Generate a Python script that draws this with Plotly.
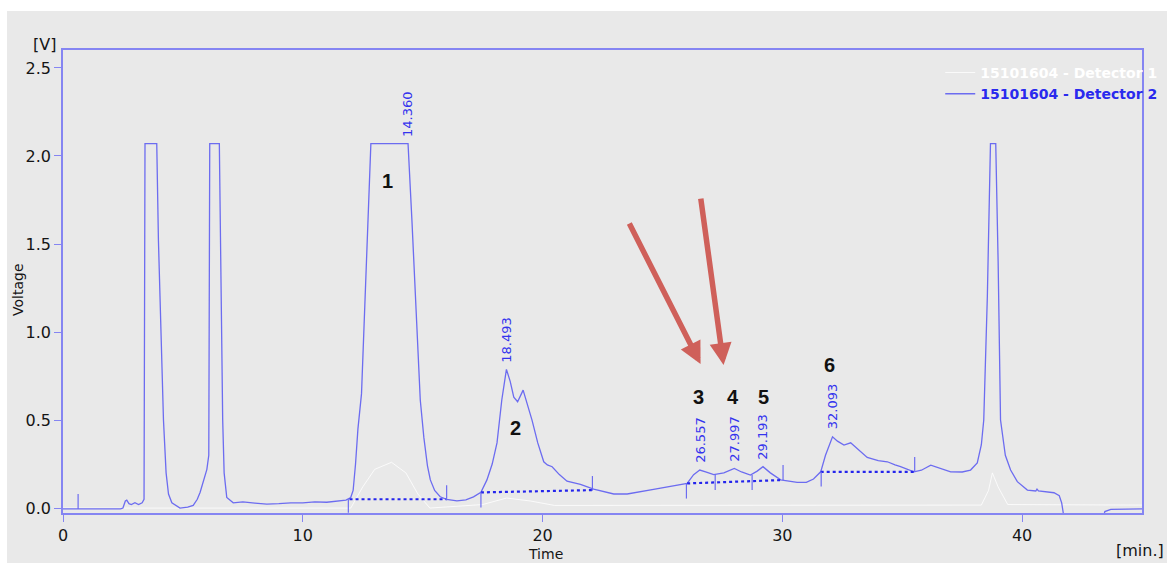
import numpy as np
import plotly.graph_objects as go

# ---- chromatogram, detector 2 (time in min, signal in V) ----
time_d2 = [0.0, 2.4, 2.5, 2.6, 2.66, 2.75, 2.85, 3.0, 3.15, 3.3, 3.38,
           3.42, 3.91, 3.98, 4.19, 4.3, 4.4, 4.54, 4.88, 5.2, 5.43, 5.6, 5.72, 5.9, 6.0, 6.08,
           6.12, 6.52, 6.56, 6.66, 6.72, 6.83, 7.1, 7.5, 8.0, 8.5, 9.0, 9.5, 10.0, 10.5, 11.0,
           11.5, 11.8, 12.0, 12.1, 12.2, 12.3, 12.45, 12.58, 12.7, 12.84,
           14.36, 14.39, 14.55, 14.75, 14.9, 15.05, 15.2, 15.32, 15.5, 15.73, 16.0, 16.43,
           16.8, 17.12, 17.43, 17.68, 17.9, 18.1, 18.3, 18.493, 18.65, 18.8, 18.96, 19.19,
           19.35, 19.56, 19.8, 20.05, 20.2, 20.4, 20.7, 21.02, 21.58, 22.13, 22.97, 23.53,
           24.63, 26.03, 26.3, 26.557, 26.8, 27.14, 27.56, 27.997, 28.3, 28.67, 28.95,
           29.193, 29.5, 29.93, 30.62, 31.0, 31.3, 31.6, 31.8, 32.093, 32.3, 32.57, 32.85,
           33.2, 33.54, 34.0, 34.38, 34.7, 34.93, 35.49, 35.8, 36.19, 36.6, 37.02, 37.5,
           37.85, 38.13, 38.3, 38.4, 38.55, 38.68, 38.9, 39.0, 39.1, 39.3, 39.52, 39.8,
           40.22, 40.57, 40.62, 40.68, 41.33, 41.55, 41.65, 41.8, 43.3, 43.45, 43.7, 45.0]
signal_d2 = [-0.005, -0.005, 0.0, 0.04, 0.045, 0.025, 0.02, 0.03, 0.02, 0.03, 0.05,
             2.07, 2.07, 1.52, 0.5, 0.2, 0.08, 0.03, 0.0, 0.005, 0.015, 0.05, 0.09, 0.17, 0.22, 0.3,
             2.07, 2.07, 1.5, 0.5, 0.2, 0.06, 0.03, 0.035, 0.028, 0.022, 0.025, 0.03, 0.03, 0.035, 0.033,
             0.04, 0.045, 0.06, 0.1, 0.25, 0.45, 0.65, 1.1, 1.6, 2.07,
             2.07, 2.07, 1.64, 1.05, 0.614, 0.4, 0.24, 0.16, 0.1, 0.064, 0.05, 0.041,
             0.047, 0.064, 0.09, 0.16, 0.25, 0.37, 0.614, 0.788, 0.72, 0.63, 0.604, 0.67,
             0.6, 0.5, 0.37, 0.263, 0.245, 0.235, 0.19, 0.153, 0.135, 0.108, 0.08, 0.08,
             0.106, 0.14, 0.19, 0.216, 0.205, 0.19, 0.2, 0.225, 0.205, 0.1875, 0.21,
             0.235, 0.2, 0.16, 0.146, 0.146, 0.165, 0.206, 0.3, 0.405, 0.38, 0.358, 0.371,
             0.33, 0.288, 0.27, 0.263, 0.245, 0.235, 0.206, 0.215, 0.244, 0.225, 0.206, 0.205,
             0.216, 0.256, 0.36, 0.5, 1.2, 2.07, 2.07, 1.4, 0.5, 0.3, 0.216, 0.15,
             0.102, 0.097, 0.108, 0.097, 0.087, 0.07, 0.03, -0.1, -0.1, -0.02, -0.007, -0.005]

# ---- detector 1 (faint trace) ----
time_d1 = [0.0, 12.0, 12.5, 13.0, 13.7, 14.3, 14.8, 15.3, 17.5, 18.5, 19.5, 20.5,
           38.3, 38.6, 38.76, 39.0, 39.4, 45.0]
signal_d1 = [0.0, 0.0, 0.12, 0.22, 0.26, 0.2, 0.08, 0.0, 0.02, 0.057, 0.04, 0.015,
             0.017, 0.1, 0.2, 0.12, 0.02, 0.017]

# ---- integrated peaks ----
peak_times = [14.360, 18.493, 26.557, 27.997, 29.193, 32.093]
peak_numbers = ["1", "2", "3", "4", "5", "6"]
number_t = [13.52, 18.86, 26.5, 27.96, 29.21, 31.97]
number_v = [1.858, 0.455, 0.63, 0.63, 0.63, 0.81]

# baseline segments (start time, start V, end time, end V)
base_t0 = [11.95, 17.43, 26.03, 31.6]
base_v0 = [0.05, 0.089, 0.14, 0.206]
base_t1 = [16.0, 22.08, 29.97, 35.49]
base_v1 = [0.05, 0.102, 0.159, 0.206]

# integration event markers (time, low V, high V)
mark_t = [0.63, 11.9, 16.0, 17.43, 22.08, 26.0, 27.2, 28.74, 30.03, 31.62, 35.52]
mark_lo = [-0.005, -0.027, 0.045, 0.003, 0.099, 0.054, 0.102, 0.102, 0.159, 0.122, 0.206]
mark_hi = [0.08, 0.05, 0.13, 0.09, 0.182, 0.14, 0.19, 0.188, 0.244, 0.206, 0.29]

# arrows pointing at peaks 3 and 4 (tip time, tip V, tail offsets in px)
arrow_t = [26.59, 27.55]
arrow_v = [0.818, 0.8125]
arrow_dx = [-72, -23]
arrow_dy = [-142, -168]

LINE = "#6c6cf0"
LABEL = "#3434ee"
BASE = "#2424ec"
FRAME = "#8585f2"

fig = go.Figure()

fig.add_trace(go.Scatter(
    x=time_d1, y=signal_d1, mode="lines",
    line=dict(color="rgba(255,255,255,0.8)", width=1),
    name="<span style='color:#ffffff'><b>15101604 - Detector 1</b></span>",
))
fig.add_trace(go.Scatter(
    x=time_d2, y=signal_d2, mode="lines",
    line=dict(color=LINE, width=1.3),
    name="<b>15101604 - Detector 2</b>",
))

# dotted baselines
bx, by = [], []
for t0, v0, t1, v1 in zip(base_t0, base_v0, base_t1, base_v1):
    bx += [t0, t1, None]
    by += [v0, v1, None]
fig.add_trace(go.Scatter(x=bx, y=by, mode="lines", showlegend=False,
                         line=dict(color=BASE, width=2.2, dash="dot")))

# event markers
mx, my = [], []
for t, lo, hi in zip(mark_t, mark_lo, mark_hi):
    mx += [t, t, None]
    my += [lo, hi, None]
fig.add_trace(go.Scatter(x=mx, y=my, mode="lines", showlegend=False,
                         line=dict(color=LINE, width=1.2)))

annotations = []
# retention-time labels above each apex
for t in peak_times:
    v = float(np.interp(t, time_d2, signal_d2))
    annotations.append(dict(
        x=t, y=v, text=f"{t:.3f}", textangle=-90, showarrow=False,
        xanchor="center", yanchor="bottom", yshift=5,
        font=dict(family="DejaVu Sans", size=13, color=LABEL)))

# peak numbers
for s, t, v in zip(peak_numbers, number_t, number_v):
    annotations.append(dict(
        x=t, y=v, text=f"<b>{s}</b>", showarrow=False,
        xanchor="center", yanchor="middle",
        font=dict(family="Liberation Sans", size=20, color="#111111")))

# arrows
for t, v, dx, dy in zip(arrow_t, arrow_v, arrow_dx, arrow_dy):
    annotations.append(dict(
        x=t, y=v, ax=dx, ay=dy, text="", showarrow=True,
        arrowhead=2, arrowsize=0.8, arrowwidth=5.5, arrowcolor="#cf605a",
        standoff=0, startstandoff=0))

# axis units and titles
axis_font = dict(family="DejaVu Sans", size=16, color="#151515")
title_font = dict(family="DejaVu Sans", size=14, color="#151515")
annotations += [
    dict(xref="paper", yref="paper", x=-0.0167, y=1.011, text="[V]",
         xanchor="center", yanchor="middle", showarrow=False, font=axis_font),
    dict(xref="paper", yref="paper", x=0.998, y=-0.08, text="[min.]",
         xanchor="center", yanchor="middle", showarrow=False, font=axis_font),
    dict(xref="paper", yref="paper", x=0.4468, y=-0.0875, text="Time",
         xanchor="center", yanchor="middle", showarrow=False, font=title_font),
    dict(xref="paper", yref="paper", x=-0.0417, y=0.4816, text="Voltage",
         textangle=-90, xanchor="center", yanchor="middle", showarrow=False,
         font=title_font),
]

fig.update_layout(
    width=1167, height=563,
    margin=dict(l=63, r=25, t=50, b=50, autoexpand=False),
    paper_bgcolor="#ffffff",
    plot_bgcolor="#fafde6",
    annotations=annotations,
    shapes=[dict(type="rect", xref="paper", yref="paper",
                 x0=-0.0519, x1=1.03, y0=-0.12, y1=1.0842,
                 fillcolor="#e9e9e9", line=dict(width=0), layer="below")],
    legend=dict(x=0.813, y=0.985, xanchor="left", yanchor="top",
                bgcolor="rgba(0,0,0,0)", borderwidth=0,
                font=dict(family="DejaVu Sans", size=14, color="#2a2aee"),
                tracegroupgap=0),
    showlegend=True,
)

fig.update_xaxes(
    range=[0, 45], tickvals=[0, 10, 20, 30, 40],
    showgrid=False, zeroline=False,
    showline=True, linecolor=FRAME, linewidth=1.5, mirror=True,
    ticks="outside", ticklen=7, tickcolor=FRAME, tickwidth=1.2,
    tickfont=axis_font,
)
fig.update_yaxes(
    range=[-0.028, 2.602], tickvals=[0, 0.5, 1.0, 1.5, 2.0, 2.5],
    ticktext=["0.0", "0.5", "1.0", "1.5", "2.0", "2.5"],
    showgrid=False, zeroline=False,
    showline=True, linecolor=FRAME, linewidth=1.5, mirror=True,
    ticks="outside", ticklen=7, tickcolor=FRAME, tickwidth=1.2,
    tickfont=axis_font,
)

fig.write_html("out.html")
